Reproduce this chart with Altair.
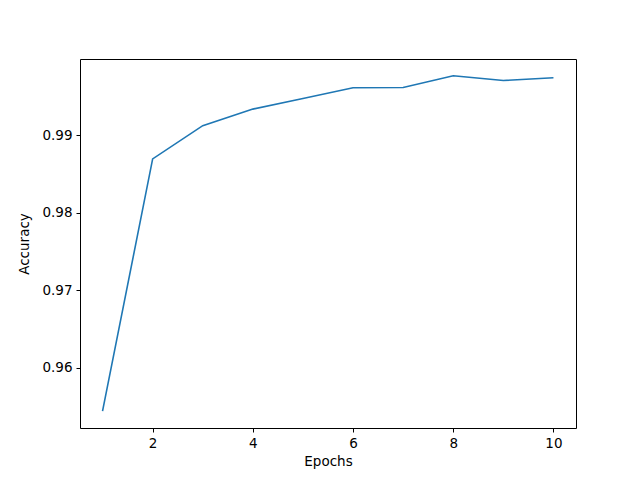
import altair as alt
import pandas as pd

epochs = [1, 2, 3, 4, 5, 6, 7, 8, 9, 10]
accuracy = [0.95437, 0.98695, 0.99125, 0.99339, 0.99476, 0.99614, 0.99618, 0.99769, 0.99708, 0.99743]
x_ticks = [2, 4, 6, 8, 10]
y_ticks = [0.96, 0.97, 0.98, 0.99]

df = pd.DataFrame({"Epochs": epochs, "Accuracy": accuracy})

font = "DejaVu Sans"
axis_common = dict(
    domain=False, grid=False, tickColor="black", tickSize=4, tickWidth=1,
    labelFont=font, labelFontSize=13.5, labelColor="black",
    titleFont=font, titleFontSize=13.5, titleFontWeight="normal", titleColor="black",
    labelPadding=4,
)

chart = alt.Chart(df).mark_line(color="#1f77b4", strokeWidth=1.6, clip=True).encode(
    x=alt.X("Epochs:Q", scale=alt.Scale(domain=[0.55, 10.45], nice=False, zero=False),
            axis=alt.Axis(values=x_ticks, format="d", title="Epochs", titlePadding=5, **axis_common)),
    y=alt.Y("Accuracy:Q", scale=alt.Scale(domain=[0.95220, 0.99986], nice=False, zero=False),
            axis=alt.Axis(values=y_ticks, format=".2f", title="Accuracy", titlePadding=10, **axis_common)),
).properties(
    width=496, height=369,
    autosize=alt.AutoSizeParams(type="none"),
    padding={"left": 72, "top": 51, "right": 56, "bottom": 44},
    background="white",
).configure_view(stroke="black", strokeWidth=1)

chart.save("out.html", embed_options={"renderer": "svg", "actions": False})
